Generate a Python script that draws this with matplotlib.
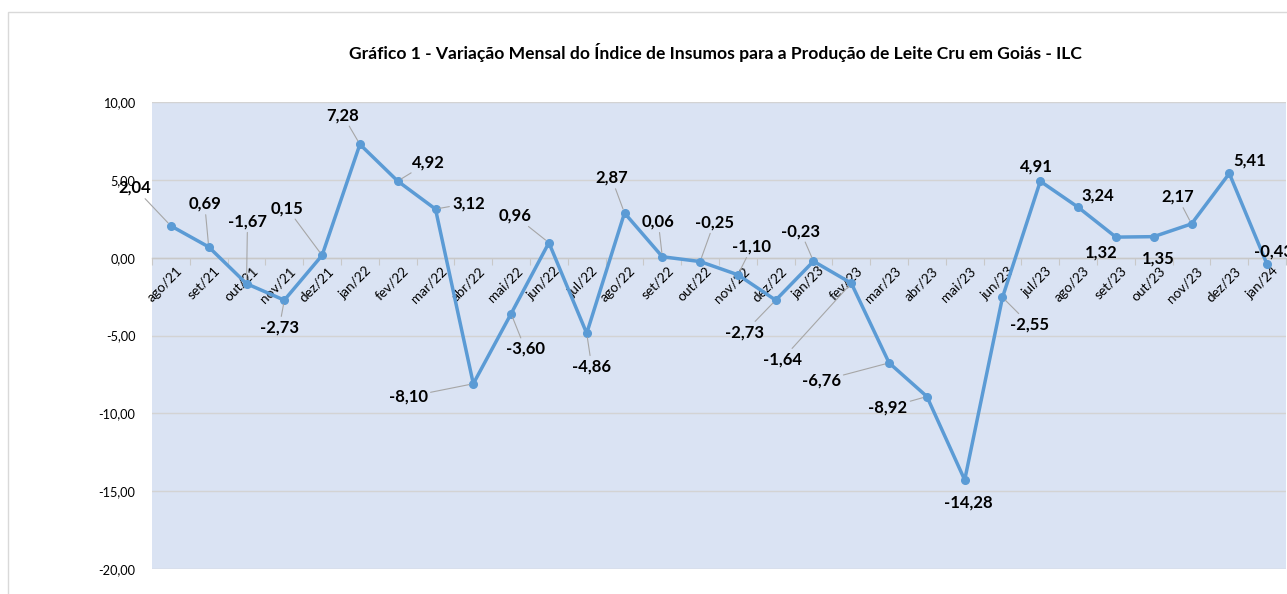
import matplotlib
matplotlib.use('Agg')
import matplotlib.pyplot as plt
from matplotlib.patches import Rectangle
import numpy as np

months = ['ago/21', 'set/21', 'out/21', 'nov/21', 'dez/21', 'jan/22', 'fev/22', 'mar/22',
          'abr/22', 'mai/22', 'jun/22', 'jul/22', 'ago/22', 'set/22', 'out/22', 'nov/22',
          'dez/22', 'jan/23', 'fev/23', 'mar/23', 'abr/23', 'mai/23', 'jun/23', 'jul/23',
          'ago/23', 'set/23', 'out/23', 'nov/23', 'dez/23', 'jan/24']
values = [2.04, 0.69, -1.67, -2.73, 0.15, 7.28, 4.92, 3.12,
          -8.10, -3.60, 0.96, -4.86, 2.87, 0.06, -0.25, -1.10,
          -2.73, -0.23, -1.64, -6.76, -8.92, -14.28, -2.55, 4.91,
          3.24, 1.32, 1.35, 2.17, 5.41, -0.43]
yticks = [-20, -15, -10, -5, 0, 5, 10]

# label offsets in pixels (x right, y up) and whether a leader line is drawn
label_dx = [-36, -4, 1, -5, -35, -17, 31, 33, -65, 14, -34, 5, -13, -4, 14, 14,
            -31, -13, -69, -68, -39, 4, 27, -4, 20, -15, 5, -14, 20, 6]
label_dy = [38, 43, 62, -27, 47, 29, 19, 6, -13, -35, 27, -33, 35, 35, 39, 28,
            -32, 30, -76, -18, -11, -23, -27, 15, 12, -15, -22, 27, 13, 13]
leader = [1, 1, 1, 1, 1, 1, 1, 1, 1, 1, 1, 1, 1, 1, 1, 1,
          1, 1, 1, 1, 1, 0, 1, 0, 0, 0, 0, 1, 0, 0]

plt.rcParams['font.family'] = ['Lato', 'DejaVu Sans']

W, H = 1287, 594
fig = plt.figure(figsize=(W / 100, H / 100), dpi=100)
fig.patch.set_facecolor('white')
fig.patches.append(Rectangle((8 / W, -0.1), 1.2, (H - 12) / H + 0.1, transform=fig.transFigure,
                             fill=False, edgecolor='#D9D9D9', lw=1))

ax = fig.add_axes([152 / W, 25 / H, 1134 / W, 467 / H])
ax.set_facecolor('#DAE3F3')

x = np.arange(len(months))
ax.plot(x, values, color='#5B9BD5', lw=2.5, marker='o', ms=5.5, zorder=4, clip_on=False)

ax.set_xlim(-0.5, len(months) - 0.5)
ax.set_ylim(-20, 10)
ax.set_yticks(yticks)
ax.set_yticklabels([f'{v:.2f}'.replace('.', ',') for v in yticks])
ax.tick_params(axis='y', length=0, labelsize=9.2, pad=12, colors='#000000')
ax.yaxis.grid(True, color='#D3D3D3', lw=1)
ax.set_axisbelow(True)

for s in ['left', 'right', 'top']:
    ax.spines[s].set_visible(False)
ax.spines['bottom'].set_position(('data', 0))
ax.spines['bottom'].set_color('#C8C8C8')
ax.spines['bottom'].set_linewidth(1)
ax.set_xticks(np.arange(-0.5, len(months), 1))
ax.tick_params(axis='x', length=5, color='#C8C8C8', labelbottom=False)

for i, m in enumerate(months):
    ax.annotate(m, (i, 0), xytext=(5, -7), textcoords='offset pixels', rotation=45,
                rotation_mode='anchor', ha='right', va='top', fontsize=9.8, color='#000000',
                zorder=3)

for i, v in enumerate(values):
    arrow = dict(arrowstyle='-', color='#A6A6A6', lw=0.8, shrinkA=0, shrinkB=3) if leader[i] else None
    ax.annotate(f'{v:.2f}'.replace('.', ','), (i, v), xytext=(label_dx[i], label_dy[i]),
                textcoords='offset pixels', ha='center', va='center', fontsize=12,
                fontweight='bold', color='#000000', arrowprops=arrow, annotation_clip=False,
                zorder=5)

fig.text(715 / W, 1 - 52 / H,
         'Gráfico 1 - Variação Mensal do Índice de Insumos para a Produção de Leite Cru em Goiás - ILC',
         ha='center', va='center', fontsize=12.6, fontweight='bold', color='#000000')

fig.savefig('out.png', dpi=100)
